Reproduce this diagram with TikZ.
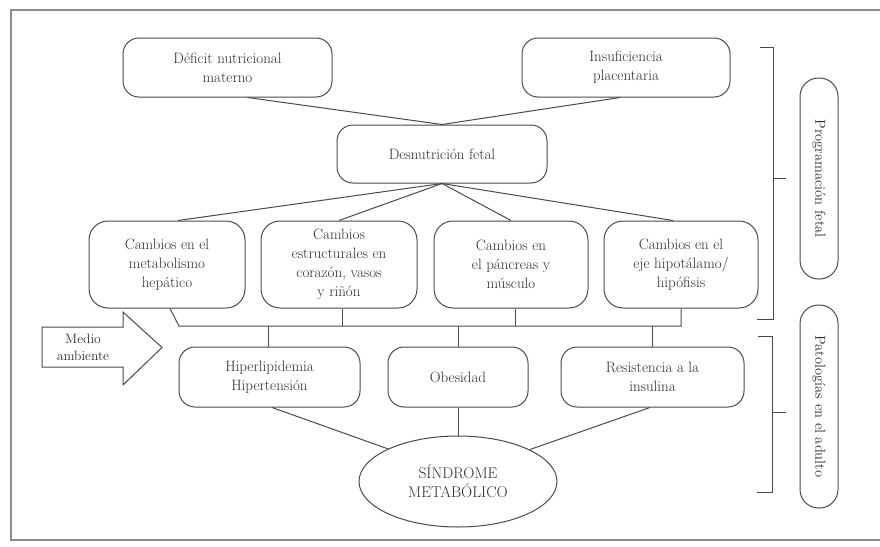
\documentclass[tikz,border=0pt]{standalone}
\usetikzlibrary{shapes.geometric}
\definecolor{ln}{HTML}{4A4A4A}
\definecolor{tx}{HTML}{2E2E2E}
\definecolor{fr}{HTML}{8C8C8C}
\begin{document}
\begin{tikzpicture}[x=1pt,y=-1pt,
  box/.style={draw=ln, line width=1pt, rounded corners=16pt, align=center, text=tx,
    font=\fontsize{15}{19}\selectfont, inner sep=2pt},
  cbox/.style={box, rounded corners=19pt},
  pill/.style={draw=ln, line width=1pt, rounded corners=18.5pt, minimum width=38pt,
    text=tx, font=\fontsize{14.5}{18}\selectfont, inner sep=0pt},
  link/.style={draw=ln, line width=1pt},
  frame/.style={draw=fr, line width=1.6pt}]
\useasboundingbox (0,0) rectangle (880,546);
\fill[white] (0,0) rectangle (880,546);
\draw[frame] (881,10) -- (11,10) -- (11,540) -- (881,540);

% top row
\node[box, minimum width=209pt, minimum height=59pt] (def) at (227.5,67.5) {D\'eficit nutricional\\materno};
\node[box, minimum width=208pt, minimum height=59pt] (ins) at (626,67.5) {Insuficiencia\\placentaria};
\node[box, minimum width=210pt, minimum height=58pt] (des) at (442,154) {Desnutrici\'on fetal};

% second row
\node[cbox, minimum width=156pt, minimum height=87pt] (hep) at (167,264.5) {Cambios en el\\metabolismo\\hep\'atico};
\node[cbox, minimum width=156pt, minimum height=87pt] (est) at (339,264.5) {Cambios\\estructurales en\\coraz\'on, vasos\\y ri\~n\'on};
\node[cbox, minimum width=154pt, minimum height=87pt] (pan) at (511,264.5) {Cambios en\\el p\'ancreas y\\m\'usculo};
\node[cbox, minimum width=154pt, minimum height=87pt] (hip) at (681,264.5) {Cambios en el\\eje hipot\'alamo/\\hip\'ofisis};

% third row
\node[box, minimum width=181pt, minimum height=60pt] (hyp) at (269.5,377) {Hiperlipidemia\\Hipertensi\'on};
\node[box, minimum width=140pt, minimum height=60pt] (obe) at (458,377) {Obesidad};
\node[box, minimum width=183pt, minimum height=60pt] (res) at (652.5,377) {Resistencia a la\\insulina};

\node[ellipse, draw=ln, line width=1pt, minimum width=198pt, minimum height=91pt, inner sep=0pt,
  align=center, text=tx, font=\fontsize{15.5}{19}\selectfont] (sm) at (458,481.5) {S\'INDROME\\METAB\'OLICO};

% connectors top
\draw[link] ([xshift=20pt]def.south) -- (des.north);
\draw[link] ([xshift=-6pt]ins.south) -- (des.north);
\draw[link] (des.south) -- ([xshift=11pt]hep.north);
\draw[link] (des.south) -- (est.north);
\draw[link] (des.south) -- (pan.north);
\draw[link] (des.south) -- ([xshift=-8pt]hip.north);

% bus
\coordinate (bl) at (179,326);
\coordinate (br) at (681,326);
\draw[link] ([xshift=3pt]hep.south) -- (bl) -- (br) -- (hip.south);
\draw[link] ([xshift=3pt]est.south) -- ([xshift=3pt]est.south |- bl);
\draw[link] ([xshift=4pt]pan.south) -- ([xshift=4pt]pan.south |- bl);
\draw[link] ([xshift=-1.5pt]hyp.north) -- ([xshift=-1.5pt]hyp.north |- bl);
\draw[link] (obe.north) -- (obe.north |- bl);
\draw[link] (res.north) -- (res.north |- bl);

% bottom
\draw[link] ([xshift=2.5pt]hyp.south) -- (sm.155);
\draw[link] (obe.south) -- (sm.north);
\draw[link] ([xshift=-2.5pt]res.south) -- (sm.24);

% medio ambiente arrow
\draw[ln, line width=1pt, fill=white] (42,327) -- (123,327) -- (123,312) -- (162,347.5) -- (123,385) -- (123,367) -- (42,367) -- cycle;
\node[text=tx, align=center, font=\fontsize{13.5}{17}\selectfont, inner sep=0pt] (med) at (83,347) {Medio\\ambiente};

% brackets
\coordinate (b1a) at (760,47);
\coordinate (b1b) at (773,47);
\coordinate (b1c) at (773,319);
\coordinate (b1d) at (757,319);
\coordinate (b1m) at (773,178);
\coordinate (b1n) at (786,178);
\draw[link, line width=0.9pt] (b1a) -- (b1b) -- (b1c) -- (b1d);
\draw[link, line width=0.9pt] (b1m) -- (b1n);
\coordinate (b2a) at (758,336);
\coordinate (b2b) at (772,336);
\coordinate (b2c) at (772,492);
\coordinate (b2d) at (757,492);
\coordinate (b2m) at (772,412);
\coordinate (b2n) at (786,412);
\draw[link, line width=0.9pt] (b2a) -- (b2b) -- (b2c) -- (b2d);
\draw[link, line width=0.9pt] (b2m) -- (b2n);

% side labels
\node[pill, minimum height=201pt] (p1) at (819,178.5) {};
\node[rotate=-90, text=tx, font=\fontsize{14.5}{18}\selectfont, inner sep=0pt] (p1t) at (p1.center) {Programaci\'on fetal};
\node[pill, minimum height=203pt] (p2) at (819,406.5) {};
\node[rotate=-90, text=tx, font=\fontsize{14.5}{18}\selectfont, inner sep=0pt] (p2t) at (p2.center) {Patolog\'ias en el adulto};
\end{tikzpicture}
\end{document}
